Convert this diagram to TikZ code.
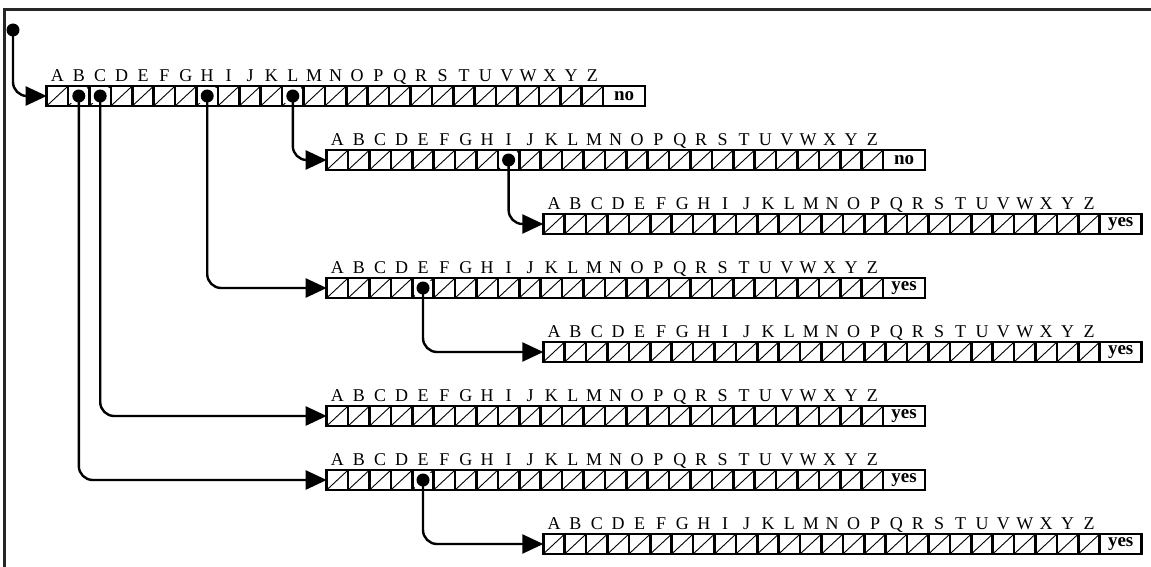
\documentclass[tikz,border=0pt]{standalone}
\usepackage{fontspec}
\setmainfont{Liberation Serif}
\usetikzlibrary{arrows.meta}
\tikzset{
  frameline/.style={line width=2.5pt, draw=black!85},
  cellbox/.style={draw, line width=2.6pt, minimum width=21.4pt, minimum height=20pt, inner sep=0pt, outer sep=0pt},
  diag/.style={line width=0.9pt},
  lbl/.style={font=\fontsize{18}{18}\selectfont, inner sep=0pt, anchor=base},
  endbox/.style={draw, line width=2.6pt, minimum width=42pt, minimum height=20pt, inner sep=0pt, outer sep=0pt, font=\bfseries\fontsize{19}{19}\selectfont},
  ptr/.style={line width=2.4pt, rounded corners=14pt, -{Triangle[length=21pt,width=19pt]}},
  dotmark/.style={circle, fill, inner sep=0pt, minimum size=13pt},
  blank/.style={fill=white, minimum width=17pt, minimum height=15pt, inner sep=0pt},
}
\newcommand\mkarray[4]{%
  \foreach \L [count=\i from 0] in {A,...,Z}{
    \node[cellbox, anchor=west] (#1-\L) at (#2+\i*21.4, #3) {};
    \draw[diag] (#1-\L.south west) -- (#1-\L.north east);
    \node[lbl] at ([yshift=4.5pt]#1-\L.north) {\L};
  }
  \node[endbox, anchor=west] (#1-end) at (#2+26*21.4, #3) {#4};
}
\begin{document}
\begin{tikzpicture}[x=1pt,y=-1pt]
\useasboundingbox (0,0) rectangle (1151,567);
\draw[frameline] (4.5,567) -- (4.5,9.5) -- (1151,9.5);
\mkarray{r1}{46.7}{96}{no}
\mkarray{r2}{326.7}{160}{no}
\mkarray{r3}{543.3}{224}{yes}
\mkarray{r4}{326.7}{288}{yes}
\mkarray{r5}{543.3}{352}{yes}
\mkarray{r6}{326.7}{416}{yes}
\mkarray{r7}{326.7}{480}{yes}
\mkarray{r8}{543.3}{544}{yes}
\foreach \c in {r1-B,r1-C,r1-H,r1-L,r2-I,r4-E,r7-E}{
  \node[blank] at (\c) {};
  \node[dotmark] (\c-dot) at (\c) {};
}
\node[dotmark] (start) at (13,30) {};
\draw[ptr] (start.center) |- (r1-A.west);
\draw[ptr] (r1-L-dot.center) |- (r2-A.west);
\draw[ptr] (r1-H-dot.center) |- (r4-A.west);
\draw[ptr] (r1-C-dot.center) |- (r6-A.west);
\draw[ptr] (r1-B-dot.center) |- (r7-A.west);
\draw[ptr] (r2-I-dot.center) |- (r3-A.west);
\draw[ptr] (r4-E-dot.center) |- (r5-A.west);
\draw[ptr] (r7-E-dot.center) |- (r8-A.west);
\end{tikzpicture}
\end{document}
